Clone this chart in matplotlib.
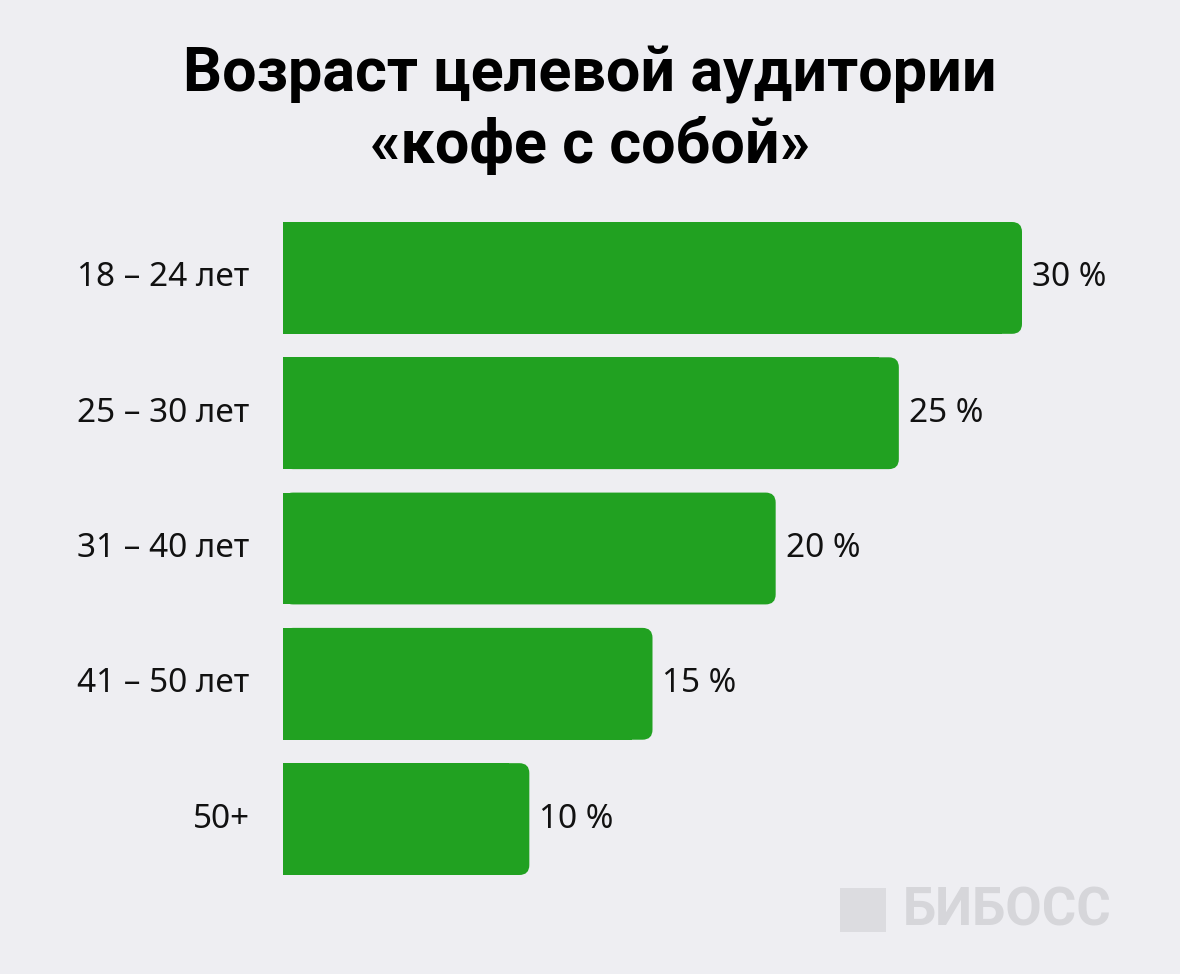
import matplotlib
matplotlib.use("Agg")
import matplotlib.pyplot as plt
from matplotlib.patches import FancyBboxPatch, Rectangle

categories = ["18 – 24 лет", "25 – 30 лет", "31 – 40 лет", "41 – 50 лет", "50+"]
values = [30, 25, 20, 15, 10]
labels = ["30 %", "25 %", "20 %", "15 %", "10 %"]

W, H = 1180, 974
bg = "#EEEEF2"
green = "#21A121"
fig = plt.figure(figsize=(W/100, H/100), dpi=100, facecolor=bg)
ax = fig.add_axes([283/W, 1-875/H, 739/W, (875-222)/H])
ax.set_facecolor(bg)
ax.set_xlim(0, 30)
hh = 112/135.5
ax.set_ylim(4+hh/2, -hh/2)
ax.axis("off")

rx = 10/24.6
ry = 10/135.5
for i, v in enumerate(values):
    ax.add_patch(Rectangle((-0.05, i-hh/2), v-rx*2+0.05, hh, color=green, lw=0, antialiased=False))
    ax.add_patch(FancyBboxPatch((0, i-hh/2), v, hh, boxstyle=f"round,pad=0,rounding_size={rx}",
                                mutation_aspect=ry/rx, color=green, lw=0))
    ax.text(v+0.4, i, labels[i], va="center", ha="left", fontsize=24, family="Noto Sans", color="#111")
    ax.text(-1.35, i, categories[i], va="center", ha="right", fontsize=24, family="Noto Sans", color="#111")

fig.text(590/W, 1-75/H, "Возраст целевой аудитории", ha="center", va="center",
         fontsize=44, fontweight="bold", family="Roboto", color="#000")
fig.text(590/W, 1-145/H, "«кофе с собой»", ha="center", va="center",
         fontsize=44, fontweight="bold", family="Roboto", color="#000")

fig.patches.append(Rectangle((840/W, 1-932/H), 46/W, 44/H, transform=fig.transFigure,
                             color="#DCDCE0", lw=0))
fig.text(903/W, 1-911/H, "БИБОСС", ha="left", va="center", fontsize=38,
         fontweight="bold", family="Roboto", color="#D6D6DA")
fig.savefig("out.png", facecolor=bg)
